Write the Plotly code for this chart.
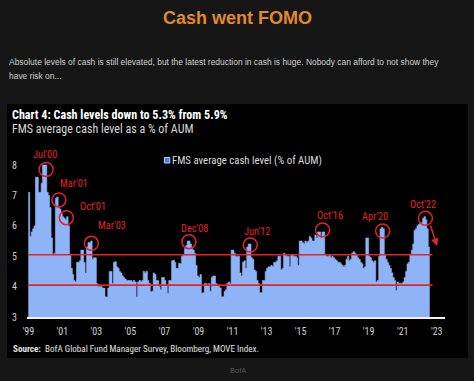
import plotly.graph_objects as go
import pandas as pd

# ---------------- data ----------------
start_month = "1999-07-01"
cash_level = [
    7.1, 5.65, 5.8, 5.9, 6.0, 7.6, 7.6, 7.1, 7.1, 7.4, 8.0, 8.0,
    8.0, 7.1, 7.0, 6.6, 5.6, 5.05, 5.1, 6.9, 6.95, 6.6, 6.55, 6.4,
    6.3, 6.25, 6.2, 6.3, 6.0, 5.05, 4.6, 4.4, 4.2, 4.15, 4.8, 4.8,
    4.85, 5.2, 5.2, 4.8, 4.45, 5.3, 5.45, 5.45, 5.5, 4.9, 4.95, 4.95,
    4.1, 4.0, 4.0, 4.0, 3.95, 3.95, 3.67, 3.65, 3.95, 4.5, 4.5, 4.1,
    4.8, 4.82, 4.65, 4.6, 4.5, 4.45, 4.35, 4.3, 4.25, 4.2, 4.2, 4.2,
    4.2, 4.15, 4.2, 4.15, 3.67, 4.15, 4.2, 4.15, 4.2, 4.5, 4.45, 4.5,
    4.2, 4.1, 3.83, 3.85, 4.45, 4.4, 4.2, 4.2, 4.0, 3.9, 4.3, 4.3,
    4.2, 4.05, 3.78, 4.2, 4.2, 4.85, 4.87, 4.8, 4.6, 4.6, 4.77, 4.75,
    5.0, 5.05, 5.25, 5.35, 5.5, 5.5, 5.4, 5.25, 5.2, 5.1, 4.7, 4.35,
    4.3, 4.4, 3.78, 3.8, 4.1, 4.1, 4.05, 4.1, 3.85, 4.3, 4.35, 4.35,
    4.1, 4.05, 4.0, 3.95, 3.67, 3.67, 3.85, 3.9, 4.1, 4.15, 4.1, 5.2,
    5.2, 5.1, 5.0, 5.0, 5.0, 4.45, 4.35, 4.8, 4.85, 4.6, 5.3, 5.4,
    5.4, 4.95, 4.9, 4.55, 4.5, 4.2, 4.1, 3.8, 3.8, 4.2, 4.2, 4.5,
    4.6, 4.65, 4.65, 4.7, 4.65, 4.8, 4.8, 4.85, 5.0, 5.0, 4.55, 4.6,
    5.1, 5.05, 5.0, 5.0, 4.65, 5.05, 5.05, 5.0, 5.0, 4.95, 4.7, 5.5,
    5.5, 5.45, 5.4, 5.5, 5.45, 5.5, 5.65, 5.6, 5.5, 5.5, 5.7, 5.6,
    5.8, 5.8, 5.6, 5.8, 5.8, 5.05, 5.0, 5.0, 5.05, 4.95, 5.0, 4.95,
    4.9, 4.85, 4.8, 4.8, 4.75, 4.7, 4.65, 4.7, 4.9, 5.0, 4.85, 4.9,
    5.1, 5.15, 5.1, 5.05, 4.95, 4.9, 4.8, 4.75, 4.6, 4.65, 5.6, 5.6,
    5.0, 4.95, 4.85, 4.8, 4.85, 4.15, 4.2, 5.0, 5.9, 5.95, 5.9, 5.05,
    4.9, 4.8, 4.7, 4.6, 4.45, 4.3, 4.2, 3.87, 4.15, 4.1, 4.1, 4.1,
    4.15, 4.3, 4.5, 4.75, 4.8, 5.05, 5.2, 5.4, 5.85, 5.9, 6.0, 6.05,
    6.1, 6.1, 6.25, 6.3, 6.2, 5.9, 5.3,
]
peak_labels = ["Jul'00", "Mar'01", "Oct'01", "Mar'03", "Dec'08",
               "Jun'12", "Oct'16", "Apr'20", "Oct'22"]
peak_months = ["2000-07-01", "2001-03-01", "2001-10-01", "2003-03-01", "2008-12-01",
               "2012-06-01", "2016-10-01", "2020-04-01", "2022-10-01"]
threshold_levels = [4.05, 5.05]
tick_labels = ["'99", "'01", "'03", "'05", "'07", "'09", "'11",
               "'13", "'15", "'17", "'19", "'21", "'23"]
y_ticks = [3, 4, 5, 6, 7, 8]

months = pd.date_range(start_month, periods=len(cash_level), freq="MS")
series = pd.Series(cash_level, index=months)
tick_dates = pd.date_range(start_month, periods=len(tick_labels), freq="24MS")

# monthly columns drawn as one stepped, filled outline (each month spans to the next)
step_x = list(months) + [months[-1] + pd.DateOffset(months=1)]
step_y = list(series.values) + [series.values[-1]]

# ---------------- layout helpers ----------------
W, H = 474, 381
L, R, T, B = 25, 29, 147, 64
PW, PH = W - L - R, H - T - B


def px(x):
    return (x - L) / PW


def py(y):
    return (H - B - y) / PH


BLUE = "#8fb3f7"
RED = "#e3242b"
NARROW = "Liberation Sans Narrow, Arial Narrow, Roboto Condensed, sans-serif"
SANS = "Liberation Sans, Arial, sans-serif"

fig = go.Figure()
fig.add_trace(go.Scatter(
    x=step_x, y=step_y, mode="lines", line=dict(shape="hv", color=BLUE, width=0.6),
    fill="tozeroy", fillcolor=BLUE,
    name="FMS average cash level (% of AUM)", showlegend=False, hoverinfo="skip",
))

shapes = [
    dict(type="rect", xref="paper", yref="paper", x0=px(5), x1=px(468),
         y0=py(358), y1=py(104), fillcolor="black", line=dict(width=0), layer="below"),
    # legend swatch
    dict(type="rect", xref="paper", yref="paper", x0=px(163), x1=px(168.5),
         y0=py(163), y1=py(157.5), fillcolor="#4d7fe0", line=dict(color="#b9cff8", width=1)),
]
for lvl in threshold_levels:
    shapes.append(dict(type="line", xref="x", yref="y", x0=months[0],
                       x1=months[-1] + pd.DateOffset(months=3), y0=lvl, y1=lvl,
                       line=dict(color=RED, width=1.6)))

# circle offset (dx, dy down) and label offset relative to peak column top, in pixels
circle_off = [(0.7, 4.5), (2.2, 3), (-0.3, 1), (0.7, 2.3), (0.3, 0.7),
              (2.1, 1), (0.7, -2), (1.2, 3.7), (1.4, 1.6)]
label_off = [(-0.3, -10.7), (17.7, -13), (26.2, -10), (21.3, -15.3), (5.7, -12.7),
             (8.7, -13), (8.3, -16), (-6.8, -10.6), (-0.9, -12.4)]
annotations = []
rad = 7
for lab, m, (cx, cy), (lx, ly) in zip(peak_labels, peak_months, circle_off, label_off):
    d = pd.Timestamp(m)
    v = float(series[d])
    shapes.append(dict(type="circle", xref="x", yref="y", xsizemode="pixel", ysizemode="pixel",
                       xanchor=d, yanchor=v, x0=cx - rad, x1=cx + rad,
                       y0=-cy - rad, y1=-cy + rad, line=dict(color=RED, width=1.5)))
    annotations.append(dict(x=d, y=v, xref="x", yref="y", xshift=lx, yshift=-ly,
                            text=lab, showarrow=False, xanchor="center", yanchor="middle",
                            font=dict(family=NARROW, size=10.3, color=RED)))

# arrow after Oct'22
annotations.append(dict(x=px(437), y=py(246), xref="paper", yref="paper", ax=-7, ay=-22,
                        text="", showarrow=True, arrowhead=2, arrowsize=1, arrowwidth=1.5,
                        arrowcolor=RED))

# texts
annotations += [
    dict(x=px(237), y=py(18), xref="paper", yref="paper", text="<b>Cash went FOMO</b>",
         showarrow=False, xanchor="center", yanchor="middle",
         font=dict(family=SANS, size=18, color="#e0892e")),
    dict(x=px(5), y=py(62), xref="paper", yref="paper",
         text="Absolute levels of cash is still elevated, but the latest reduction in cash is huge. Nobody can afford to not show they",
         showarrow=False, xanchor="left", yanchor="middle",
         font=dict(family=SANS, size=8.45, color="#cfcfcf")),
    dict(x=px(5), y=py(76), xref="paper", yref="paper", text="have risk on...",
         showarrow=False, xanchor="left", yanchor="middle",
         font=dict(family=SANS, size=8.45, color="#cfcfcf")),
    dict(x=px(8), y=py(115), xref="paper", yref="paper",
         text="<b>Chart 4: Cash levels down to 5.3% from 5.9%</b>",
         showarrow=False, xanchor="left", yanchor="middle",
         font=dict(family=NARROW, size=12.1, color="white")),
    dict(x=px(8), y=py(128.5), xref="paper", yref="paper",
         text="FMS average cash level as a % of AUM",
         showarrow=False, xanchor="left", yanchor="middle",
         font=dict(family=NARROW, size=12, color="#d8d8d8")),
    dict(x=px(168.5), y=py(160), xref="paper", yref="paper",
         text="FMS average cash level (% of AUM)",
         showarrow=False, xanchor="left", yanchor="middle",
         font=dict(family=NARROW, size=10.8, color="#dcdcdc")),
    dict(x=px(9), y=py(349), xref="paper", yref="paper",
         text="<b>Source:</b>  BofA Global Fund Manager Survey, Bloomberg, MOVE Index.",
         showarrow=False, xanchor="left", yanchor="middle",
         font=dict(family=NARROW, size=9.1, color="#e0e0e0")),
    dict(x=px(237), y=py(370), xref="paper", yref="paper", text="BofA",
         showarrow=False, xanchor="center", yanchor="middle",
         font=dict(family=SANS, size=7.5, color="#555555")),
]

x_start = months[0] - pd.Timedelta(days=28)
x_end = x_start + pd.Timedelta(days=PW / 1.425 * 30.44)

fig.update_layout(
    width=W, height=H, margin=dict(l=L, r=R, t=T, b=B),
    paper_bgcolor="#161616", plot_bgcolor="black",
    shapes=shapes, annotations=annotations, showlegend=False,
    hovermode=False,
    xaxis=dict(type="date", range=[x_start, x_end], tickvals=tick_dates, ticktext=tick_labels,
               showgrid=False, zeroline=False, showline=True, linecolor="#f2f2f2", linewidth=1.5,
               ticks="", ticklabelstandoff=4,
               tickfont=dict(family=NARROW, size=10, color="#cfcfcf")),
    yaxis=dict(range=[3, 3 + PH / 30.4], tickvals=y_ticks, showgrid=False, zeroline=False,
               showline=False, ticks="", ticklabelstandoff=9,
               tickfont=dict(family=NARROW, size=10, color="#cfcfcf")),
)

fig.write_html(
    "out.html",
    config={"displayModeBar": False},
    post_script="document.body.style.margin='0';document.body.style.background='#161616';",
)
